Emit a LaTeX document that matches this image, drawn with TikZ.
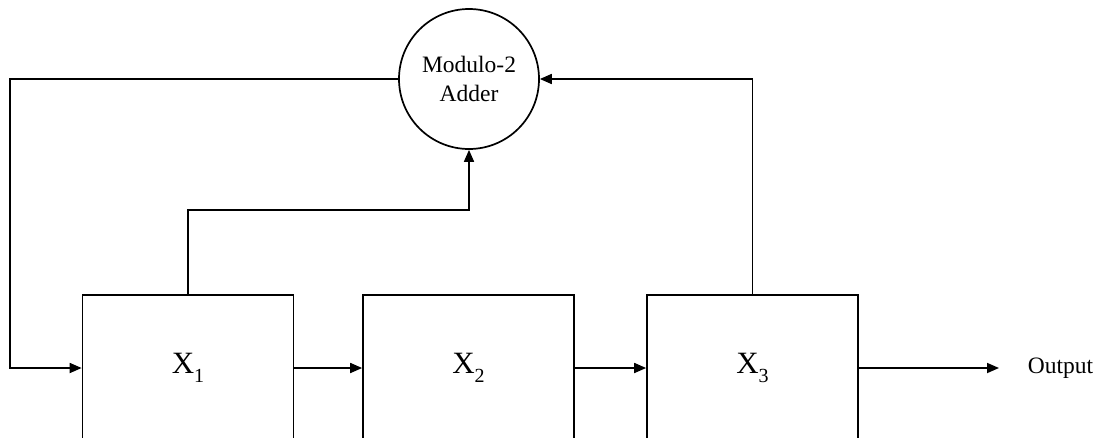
\documentclass[tikz,border=0pt]{standalone}
\usepackage{fontspec}
\setmainfont{Liberation Serif}
\usetikzlibrary{arrows.meta,calc}
\newcommand{\regname}[1]{X\raisebox{-0.3em}{\fontsize{20}{20}\selectfont #1}}
\begin{document}
\begin{tikzpicture}[x=1pt,y=-1pt,
  line width=1.7pt,
  reg/.style={draw, minimum width=211pt, minimum height=146pt, inner sep=0pt, font=\fontsize{31}{33}\selectfont},
  adder/.style={draw, circle, minimum size=140pt, inner sep=0pt, align=center, font=\fontsize{23.5}{29}\selectfont},
  conn/.style={-{Triangle[length=12pt,width=10pt]}},
  lbl/.style={font=\fontsize{23.5}{26}\selectfont, anchor=west, inner sep=0pt}]
\useasboundingbox (0,0) rectangle (1097,437);
\clip (0,0) rectangle (1097,437);
\node[adder] (add) at (469,79) {Modulo-2\\Adder};
\node[reg] (x1) at (188,368) {\regname{1}};
\node[reg] (x2) at (468.5,368) {\regname{2}};
\node[reg] (x3) at (752.5,368) {\regname{3}};
\coordinate (out) at (999,368);
\node[lbl] (outlbl) at (1027,368) {Output};
\coordinate (lt) at (10,79);
\coordinate (lb) at (10,368);
\coordinate (m1) at (188,210);
\draw[conn] (add.west) -- (lt) -- (lb) -- (x1.west);
\draw[conn] (x1.north) -- (m1) -- (m1 -| add.south) -- (add.south);
\draw[conn] (x3.north) -- (x3.north |- add.east) -- (add.east);
\draw[conn] (x1.east) -- (x2.west);
\draw[conn] (x2.east) -- (x3.west);
\draw[conn] (x3.east) -- (out);
\end{tikzpicture}
\end{document}
